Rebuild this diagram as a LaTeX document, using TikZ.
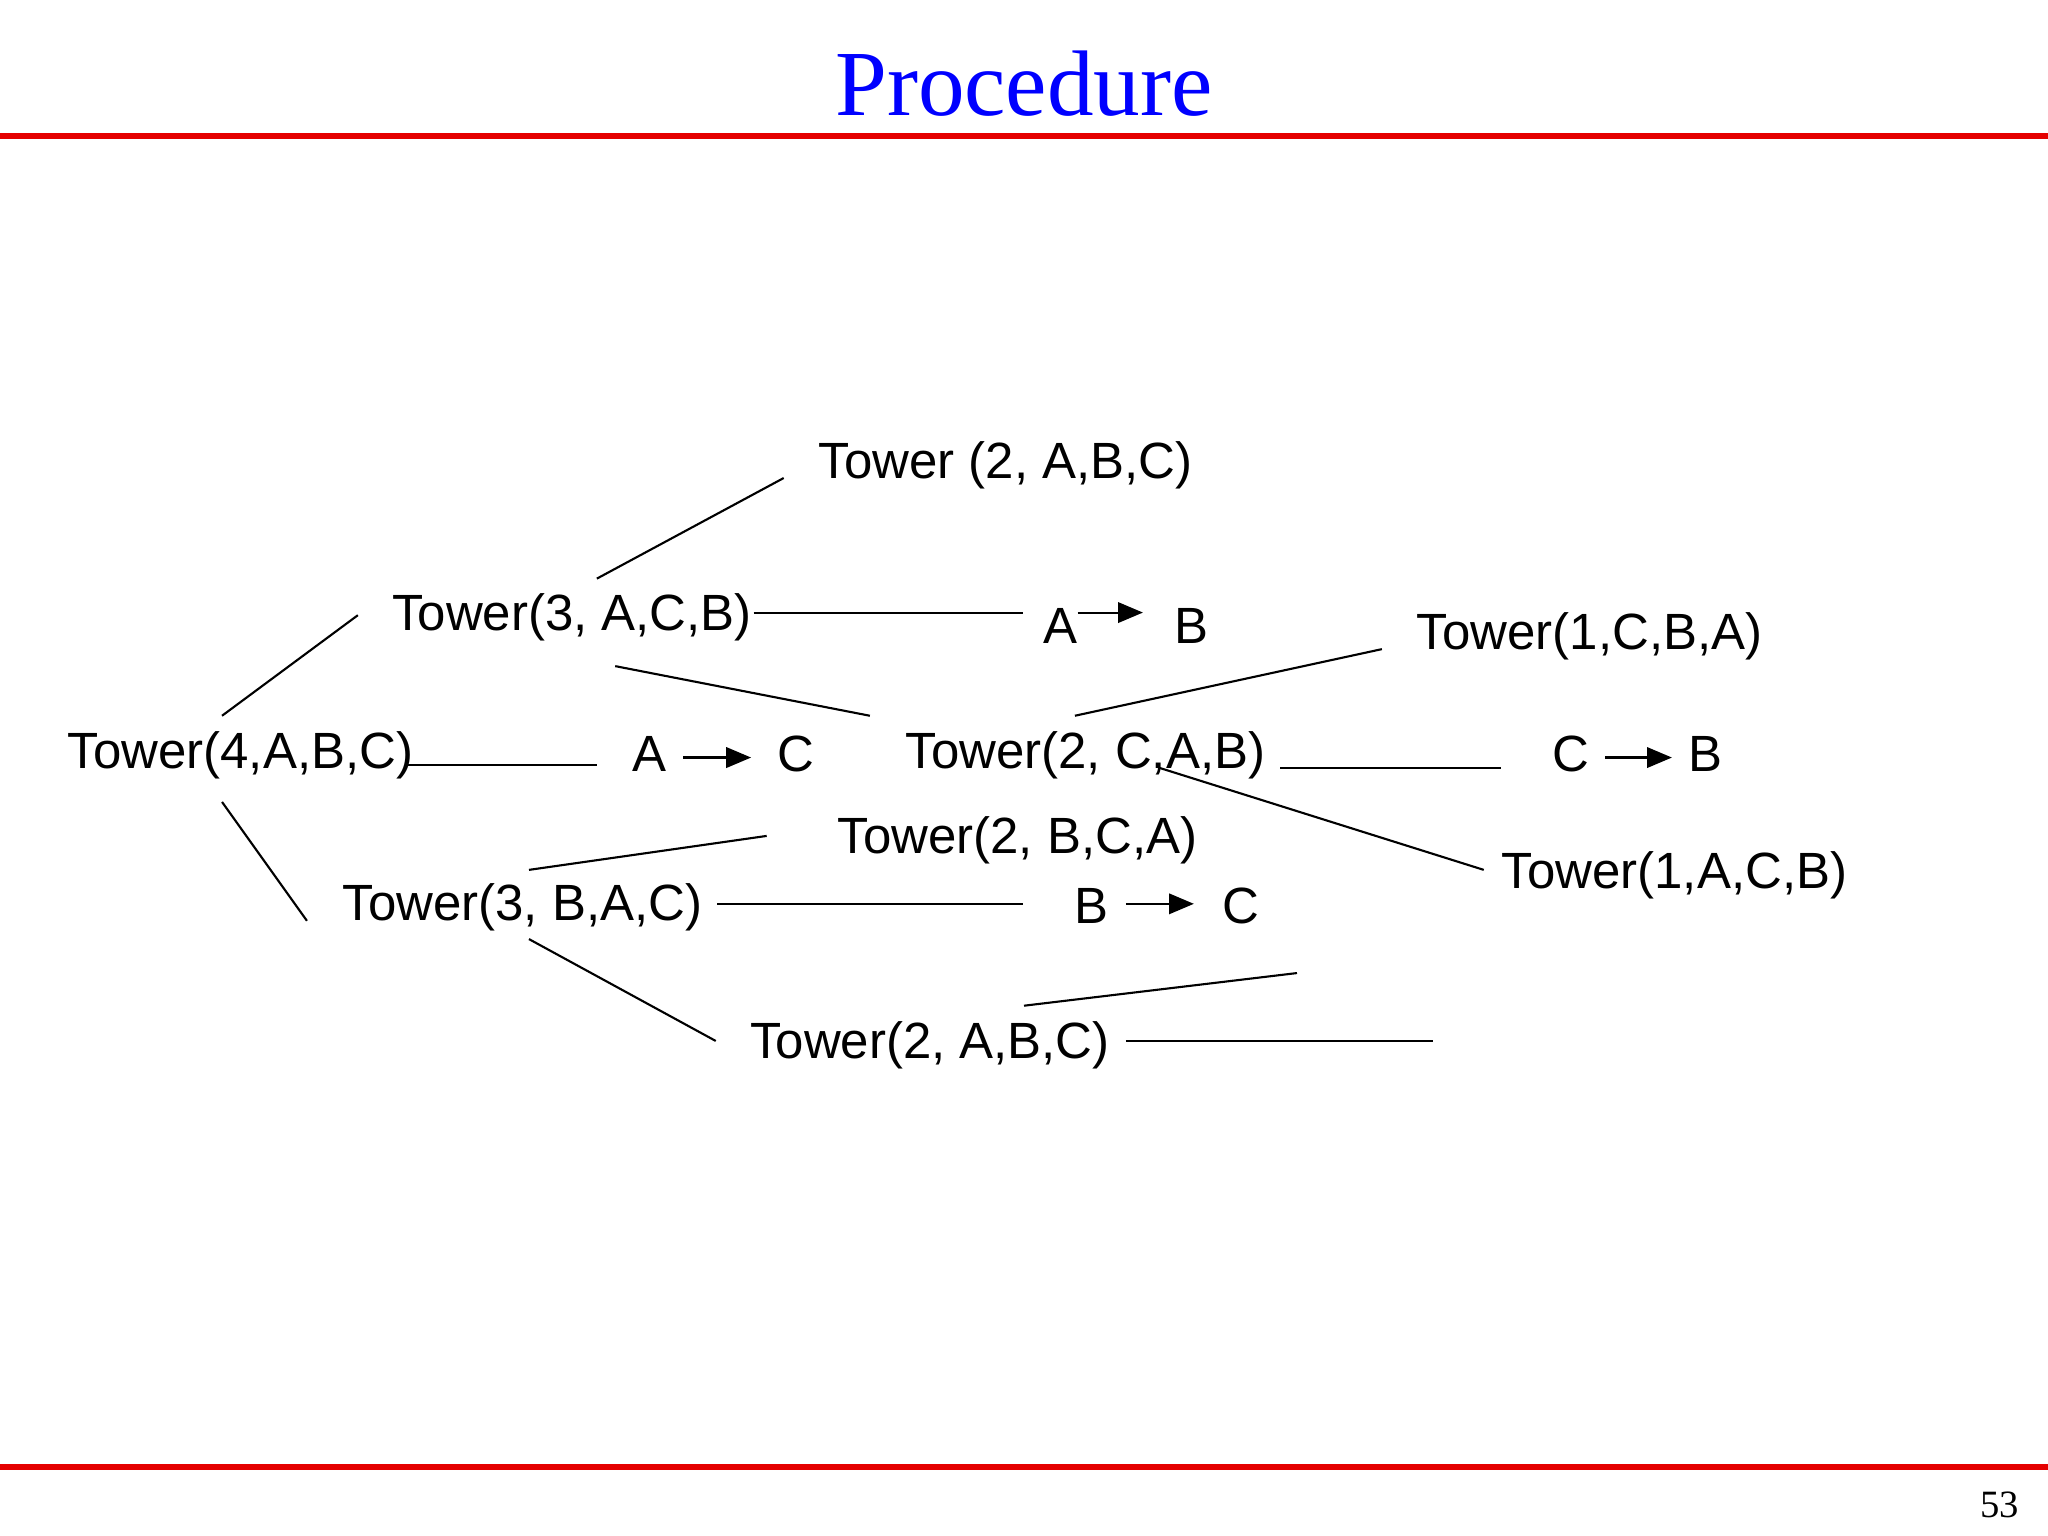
\documentclass[tikz,border=0pt]{standalone}
\usepackage{fontspec}
\setmainfont{Liberation Sans}
\newfontfamily\seriffont{Liberation Serif}
\usetikzlibrary{arrows}
\tikzstyle{call} = [inner sep=0pt, font=\fontsize{14.5}{16}\selectfont]
\tikzstyle{edge} = [line width=0.6pt]
\tikzstyle{move} = [line width=0.6pt,->,>=triangle 45]
\tikzstyle{rule} = [red!90!black, line width=1.6pt]
\begin{document}
\begin{tikzpicture}[x=0.013061cm, y=-0.013061cm]
            \useasboundingbox (0,0) rectangle (1568,1176);
            \node (title) [font=\seriffont\fontsize{26.5}{30}\selectfont, text=blue] at (784,64) {Procedure};
            \draw [rule] (0,104) -- (1568,104);
            \draw [rule] (0,1123) -- (1568,1123);
            \node (page) [font=\seriffont\fontsize{11}{13}\selectfont] at (1531,1152) {53};

            \node (t4abc) [call] at (184,578) {Tower(4,A,B,C)};
            \node (t3acb) [call] at (438,473) {Tower(3, A,C,B)};
            \node (t3bac) [call] at (400,695) {Tower(3, B,A,C)};
            \node (t2abc) [call] at (770,356) {Tower (2, A,B,C)};
            \node (t2cab) [call] at (831,578) {Tower(2, C,A,B)};
            \node (t2bca) [call] at (779,643) {Tower(2, B,C,A)};
            \node (t2abcb) [call] at (712,800) {Tower(2, A,B,C)};
            \node (t1cba) [call] at (1217,487) {Tower(1,C,B,A)};
            \node (t1acb) [call] at (1282,670) {Tower(1,A,C,B)};

            % moves
            \node (ab1) [call] at (812,479) {A};
            \node (ab2) [call] at (912,479) {B};
            \node (ac1) [call] at (497,577) {A};
            \node (ac2) [call] at (609,577) {C};
            \node (cb1) [call] at (1203,577) {C};
            \node (cb2) [call] at (1306,577) {B};
            \node (bc1) [call] at (836,694) {B};
            \node (bc2) [call] at (950,694) {C};
            \draw [move] (825,469) -- (875,469);
            \draw [move] (523,580) -- (575,580);
            \draw [move] (1229,580) -- (1280,580);
            \draw [move] (862,692) -- (914,692);

            % branches
            \draw [edge] (170,548) -- (274,471);
            \draw [edge] (312,586) -- (457,586);
            \draw [edge] (170,614) -- (235,705);
            \draw [edge] (457,443) -- (600,366);
            \draw [edge] (577,469) -- (783,469);
            \draw [edge] (471,510) -- (666,548);
            \draw [edge] (823,548) -- (1058,497);
            \draw [edge] (980,588) -- (1149,588);
            \draw [edge] (888,588) -- (1136,666);
            \draw [edge] (405,666) -- (587,640);
            \draw [edge] (549,692) -- (783,692);
            \draw [edge] (405,719) -- (548,797);
            \draw [edge] (784,770) -- (993,745);
            \draw [edge] (862,797) -- (1097,797);
        \end{tikzpicture}
\end{document}
